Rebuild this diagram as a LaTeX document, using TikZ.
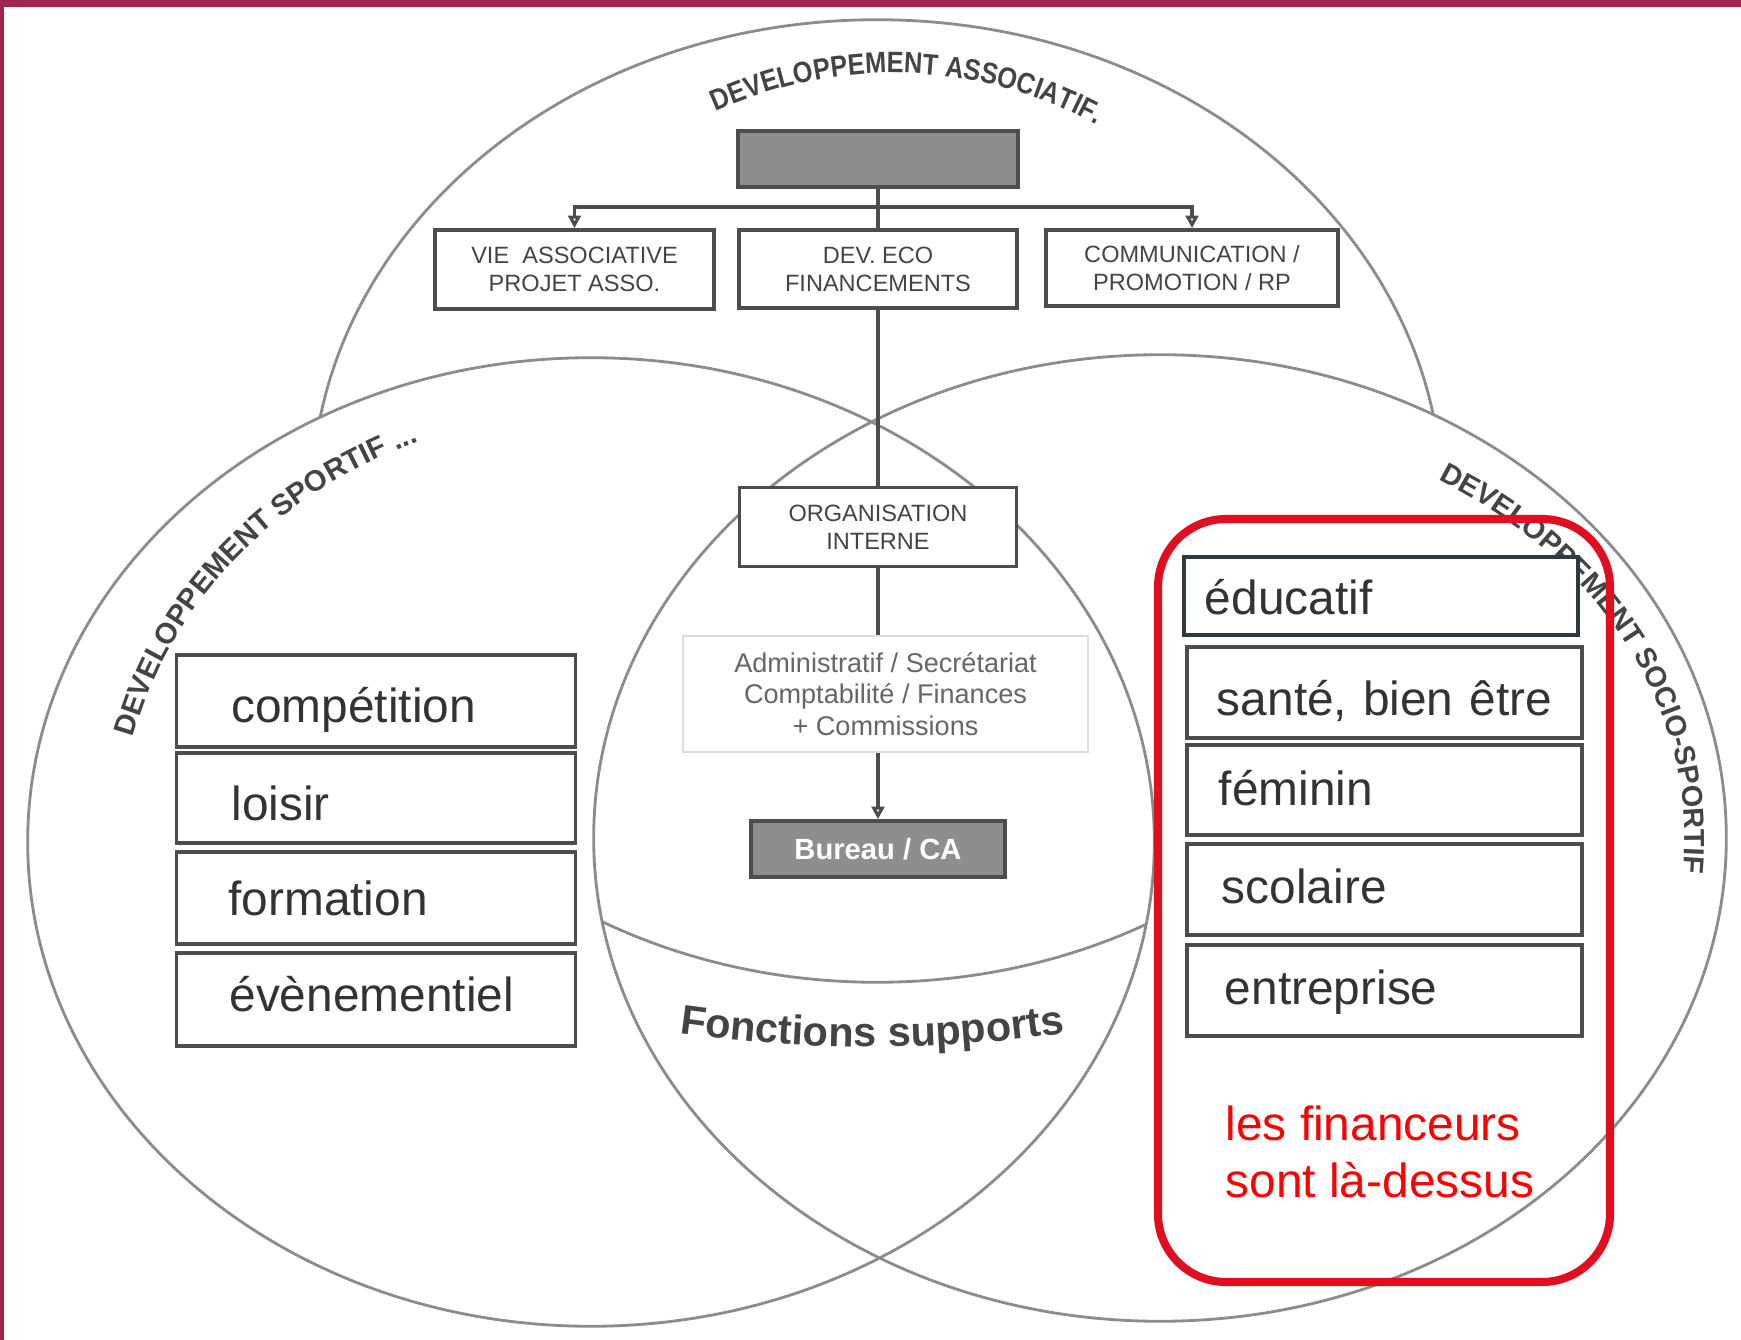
\documentclass[tikz,border=0pt]{standalone}
\usepackage{fontspec}
\setmainfont{Liberation Sans}
\newfontfamily\narrowsans[FakeStretch=0.86]{Liberation Sans}
\usetikzlibrary{arrows.meta,decorations.text,positioning}

\definecolor{framered}{HTML}{A52351}
\definecolor{ringgray}{HTML}{8C8C8C}
\definecolor{boxline}{HTML}{4D4D4D}
\definecolor{labeldark}{HTML}{444444}
\definecolor{textdark}{HTML}{333333}
\definecolor{softgray}{HTML}{666666}
\definecolor{fillgray}{HTML}{8E8E8E}
\definecolor{paleline}{HTML}{DDDDDD}
\definecolor{alertred}{HTML}{E20E1F}
\definecolor{edgeslate}{HTML}{2F3A40}

\begin{document}
\begin{tikzpicture}[x=0.01cm, y=-0.01cm,
		circ/.style={draw=ringgray, line width=0.8pt},
		link/.style={draw=boxline, line width=1pt},
		fleche/.style={link, -{Triangle[open, length=3.6pt, width=3.6pt]}},
		topbox/.style={draw=boxline, line width=1pt, fill=white, inner sep=0pt, align=center,
			text=labeldark, font=\fontsize{6.7}{8}\selectfont},
		graybox/.style={draw=boxline, line width=1pt, fill=fillgray, inner sep=0pt},
		itembox/.style={draw=boxline, line width=1pt, fill=white, align=left, inner ysep=0pt,
			text=textdark, font=\fontsize{13.6}{16}\selectfont, text height=#1, text depth=0pt},
		itembox/.default=9pt,
		leftitem/.style={itembox=#1, inner xsep=0.55cm, text width=2.89cm},
		leftitem/.default=9pt,
		rightitem/.style={itembox=#1, inner xsep=0.32cm, text width=3.31cm},
		rightitem/.default=9pt,
		arclabel/.style={decorate, decoration={text along path, text color=labeldark, #1}}
	]
	\useasboundingbox (0,0) rectangle (1741,1340);
	
	% Three rings
	\draw[circ] (877,501) ellipse [x radius=5.65cm, y radius=4.81cm];
	\fill[white] (591,842) ellipse [x radius=5.63cm, y radius=4.84cm];
	\fill[white] (1160,838) ellipse [x radius=5.66cm, y radius=4.83cm];
	\draw[circ] (591,842) ellipse [x radius=5.63cm, y radius=4.84cm];
	\draw[circ] (1160,838) ellipse [x radius=5.66cm, y radius=4.83cm];
	\begin{scope}
		\clip (591,842) ellipse [x radius=5.63cm, y radius=4.84cm];
		\clip (1160,838) ellipse [x radius=5.66cm, y radius=4.83cm];
		\draw[circ] (877,501) ellipse [x radius=5.65cm, y radius=4.81cm];
	\end{scope}
	
	% Ring titles
	\path[arclabel={text align=center, text={|\narrowsans\bfseries\fontsize{8.4}{9}\selectfont|DEVELOPPEMENT ASSOCIATIF.}}]
		plot[domain=237:307, samples=60] ({893+424*cos(\x)},{497+424*sin(\x)});
	\path[arclabel={text={|\bfseries\fontsize{8.3}{9}\selectfont|DEVELOPPEMENT SPORTIF ...}}]
		plot[domain=194:262, samples=60] ({591+472*cos(\x)},{842+430*sin(\x)});
	\path[arclabel={text={|\bfseries\fontsize{8.2}{9}\selectfont|DEVELOPPEMENT SOCIO-SPORTIF}}]
		plot[domain=302:372, samples=60] ({1160+525*cos(\x)},{838+423*sin(\x)});
	\path[arclabel={text align=center, text={|\bfseries\fontsize{11.8}{13}\selectfont|Fonctions supports}}]
		plot[domain=-10:10, samples=40] ({872+1337*sin(\x)},{-290+1337*cos(\x)});
	
	% Organisation chart
	\node[graybox, minimum width=2.80cm, minimum height=0.56cm] (head) at (878,159) {};
	\node[topbox, minimum width=2.79cm, minimum height=0.79cm] (vie) at (574.5,269.5) {VIE\ \ ASSOCIATIVE\\PROJET ASSO.};
	\node[topbox, minimum width=2.78cm, minimum height=0.78cm] (deveco) at (878,269) {DEV. ECO\\FINANCEMENTS};
	\node[topbox, minimum width=2.92cm, minimum height=0.76cm] (comm) at (1192,268) {COMMUNICATION /\\PROMOTION / RP};
	\node[topbox, minimum width=2.77cm, minimum height=0.79cm] (org) at (878,527) {ORGANISATION\\INTERNE};
	\node[draw=paleline, line width=0.6pt, fill=white, inner sep=0pt, align=center, text=softgray,
		font=\fontsize{7.7}{9}\selectfont, minimum width=4.05cm, minimum height=1.16cm] (admin) at (885.5,694)
		{Administratif / Secrétariat\\Comptabilité / Finances\\+ Commissions};
	\node[graybox, minimum width=2.54cm, minimum height=0.56cm, text=white,
		font=\bfseries\fontsize{8.3}{10}\selectfont] (bureau) at (878,849) {Bureau / CA};
	
	\coordinate (split) at (878,207);
	\draw[link] (head.south) -- (deveco.north);
	\draw[fleche] (split) -| (vie.north);
	\draw[fleche] (split) -| (comm.north);
	\draw[link] (deveco.south) -- (org.north);
	\draw[link] (org.south) -- (org.south |- admin.north);
	\draw[fleche] (bureau.north |- admin.south) -- (bureau.north);
	
	% Sport side
	\node[leftitem=12.3pt, minimum height=0.92cm] (competition) at (376,701) {compétition};
	\node[leftitem=12.9pt, minimum height=0.90cm] (loisir) at (376,798) {loisir};
	\node[leftitem=10pt, minimum height=0.92cm, inner xsep=0.52cm, text width=2.95cm] (formation) at (376,898) {formation};
	\node[leftitem=7pt, minimum height=0.93cm, inner xsep=0.53cm, text width=2.93cm] (evenement) at (376,999.5) {évènementiel};
	
	% Socio-sport side
	\node[rightitem=10.5pt, draw=edgeslate, inner xsep=0.21cm, text width=3.52cm, minimum height=0.78cm] (educatif) at (1381,596) {éducatif};
	\node[rightitem=12.9pt, minimum height=0.91cm, inner xsep=0.30cm, text width=3.35cm] (sante) at (1384.5,692.5) {\mbox{santé, bien être}};
	\node[rightitem=9.1pt, minimum height=0.90cm] (feminin) at (1384.5,790) {féminin};
	\node[rightitem=7.8pt, minimum height=0.91cm, inner xsep=0.35cm, text width=3.25cm] (scolaire) at (1384.5,889.5) {scolaire};
	\node[rightitem=7.8pt, minimum height=0.91cm, inner xsep=0.38cm, text width=3.19cm] (entreprise) at (1384.5,990.5) {entreprise};
	
	\draw[alertred, line width=2.3pt, rounded corners=0.68cm] (1158,519) rectangle (1610,1282);
	\node[anchor=west, inner sep=0pt, align=left, text=red, font=\fontsize{13.6}{16.2}\selectfont] (financeurs)
		at (1225,1152) {les financeurs\\sont là-dessus};
	
	% Frame
	\fill[framered] (0,0) rectangle (1741,7);
	\fill[framered] (0,0) rectangle (4,1340);
\end{tikzpicture}
\end{document}
